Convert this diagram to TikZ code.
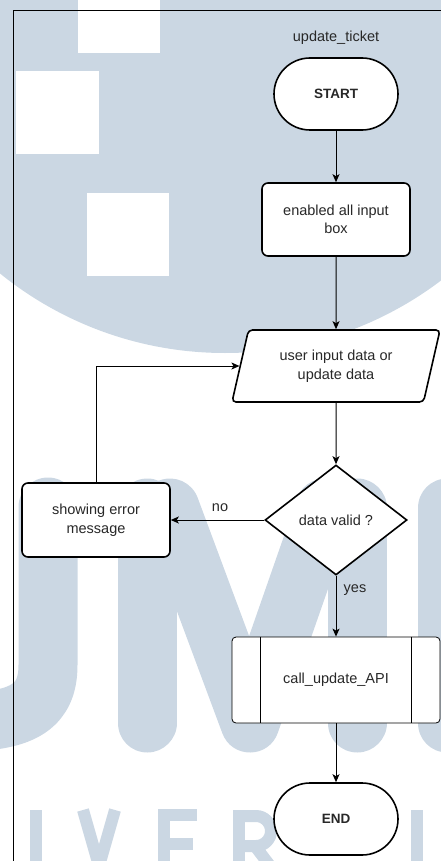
\documentclass[tikz,border=0pt]{standalone}
\usepackage{fontspec}
\setmainfont{Liberation Sans}
\usetikzlibrary{shapes.geometric,arrows.meta,calc}
\definecolor{wm}{RGB}{203,215,227}
\definecolor{txt}{RGB}{40,40,40}
\tikzset{
  nodebase/.style={draw, fill=white, line width=1.6pt, align=center, text=txt, inner sep=2pt},
  term/.style={nodebase, rectangle, rounded corners=36pt, minimum width=124pt, minimum height=72pt, font=\fontsize{13.5}{16}\selectfont\bfseries},
  proc/.style={nodebase, rectangle, rounded corners=6pt, minimum width=148pt, minimum height=73pt},
  io/.style={nodebase, trapezium, trapezium left angle=65.4, trapezium right angle=114.6, trapezium stretches body, minimum width=208pt, minimum height=72pt, rounded corners=4pt},
  dec/.style={nodebase, diamond, minimum width=142pt, minimum height=110pt, inner sep=0pt},
  subproc/.style={nodebase, line width=0.8pt, rectangle, rounded corners=4pt, minimum width=208pt, minimum height=86pt},
  conn/.style={line width=1pt, -{Stealth[length=8pt,width=7pt,inset=2pt]}},
  wmstroke/.style={wm, line width=59pt, line cap=round, line join=round},
  wmletter/.style={wm, line width=12pt},
  lbl/.style={text=txt, inner sep=0pt}
}
\begin{document}
\begin{tikzpicture}[x=1pt,y=-1pt,font=\fontsize{14.5}{18.5}\selectfont]
\useasboundingbox (0,0) rectangle (441,861);
% watermark
\begin{scope}
\clip (0,0) rectangle (441,861);
\fill[wm] (225,-5) circle[radius=358pt];
\fill[white] (78,-5) rectangle (160,53);
\fill[white] (16,71) rectangle (99,154);
\fill[white] (87,193) rectangle (169,276);
\draw[wmstroke] (48,507) -- (48,665) .. controls (48,705) and (25,722) .. (-40,722);
\draw[wmstroke] (147,508) -- (147,723);
\draw[wmstroke] (170,508) -- (250,723) -- (325,508);
\draw[wmstroke] (357,508) -- (357,723);
\draw[wmstroke] (447,508) -- (447,723);
\draw[wmletter] (36,810) -- (36,870);
\draw[wmletter] (83,810) -- (99,866) -- (115,810);
\draw[wmletter] (164,810) -- (164,870);
\draw[wmletter] (158,815) -- (197,815);
\draw[wmletter] (158,844) -- (193,844);
\draw[wmletter] (239,810) -- (239,870);
\draw[wmletter] (233,816) -- (256,816) arc[start angle=90, end angle=-90, radius=15pt] -- (239,846);
\draw[wmletter] (255,846) -- (277,875);
\draw[wmletter] (417,810) -- (417,870);
\end{scope}
% frame
\draw[line width=1pt] (13,870) -- (13,11) -- (450,11);
% nodes
\node[lbl] (title) at (336,38) {update\_ticket};
\node[term] (start) at (336,94) {START};
\node[proc] (box1) at (336,219.5) {enabled all input\\box};
\node[io] (para) at (336,366) {user input data or\\update data};
\node[dec] (dec) at (336,520) {data valid ?};
\node[proc, minimum height=74pt] (err) at (96,520) {showing error\\message};
\node[subproc] (sub) at (336,680) {call\_update\_API};
\draw[line width=0.8pt] ($(sub.north west)+(29,0)$) -- ($(sub.south west)+(29,0)$);
\draw[line width=0.8pt] ($(sub.north east)+(-29,0)$) -- ($(sub.south east)+(-29,0)$);
\node[term] (end) at (336,819) {END};
\node[lbl] (nolab) at (220,508) {no};
\node[lbl] (yeslab) at (355,590) {yes};
% connectors
\draw[conn] (start) -- (box1);
\draw[conn] (box1) -- (para);
\draw[conn] (para) -- (dec);
\draw[conn] (dec) -- (err);
\draw[conn] (dec) -- (sub);
\draw[conn] (sub) -- (end);
\draw[conn] (err.north) |- (para.left side);
\end{tikzpicture}
\end{document}
